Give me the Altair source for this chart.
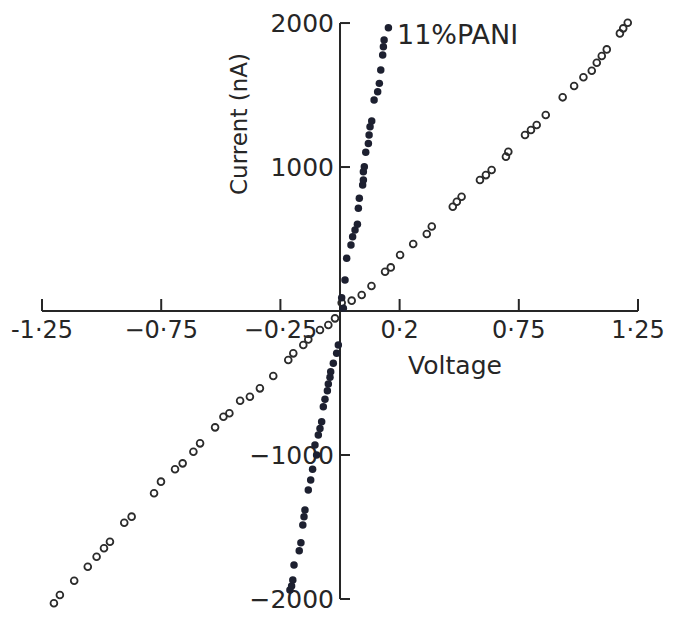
import altair as alt
import pandas as pd

# Open-circle series (steady ohmic line)
base_voltage = [-1.200, -1.175, -1.115, -1.058, -1.021, -0.990, -0.965, -0.905, -0.874,
                -0.780, -0.751, -0.692, -0.660, -0.615, -0.587, -0.524, -0.489, -0.464,
                -0.419, -0.378, -0.336, -0.280, -0.217, -0.196, -0.154, -0.133, -0.084,
                -0.049, -0.021, 0.007, 0.049, 0.091, 0.132, 0.189, 0.213, 0.252, 0.307,
                0.364, 0.385, 0.473, 0.490, 0.510, 0.587, 0.612, 0.636, 0.696, 0.706,
                0.776, 0.801, 0.825, 0.863, 0.934, 0.982, 1.021, 1.056, 1.077, 1.098,
                1.119, 1.174, 1.188, 1.207]
base_current = [-2030, -1972, -1873, -1776, -1706, -1648, -1602, -1470, -1428,
                -1266, -1185, -1099, -1058, -977, -919, -808, -734, -710,
                -623, -595, -537, -451, -340, -294, -236, -197, -132,
                -97, -51, 58, 72, 111, 174, 273, 303, 389, 465,
                535, 587, 724, 759, 794, 910, 944, 979, 1072, 1106,
                1222, 1257, 1292, 1361, 1484, 1563, 1623, 1669, 1724, 1771,
                1817, 1928, 1963, 2002]

# Filled-dot series: 11% PANI
pani_voltage = [-0.210, -0.203, -0.198, -0.193, -0.171, -0.164, -0.156, -0.151, -0.147,
                -0.133, -0.123, -0.115, -0.098, -0.105, -0.091, -0.084, -0.077, -0.070,
                -0.063, -0.053, -0.049, -0.042, -0.039, -0.028, -0.014, -0.007, 0.014,
                0.007, 0.021, 0.028, 0.046, 0.053, 0.063, 0.073, 0.077, 0.081, 0.095,
                0.098, 0.098, 0.102, 0.108, 0.119, 0.122, 0.126, 0.133, 0.143, 0.158,
                0.165, 0.171, 0.179, 0.182, 0.185, 0.203]
pani_current = [-1937, -1910, -1868, -1764, -1665, -1609, -1486, -1428, -1382,
                -1243, -1174, -1099, -1000, -931, -861, -815, -769, -665,
                -613, -553, -507, -460, -422, -363, -294, -236, 19,
                92, 215, 366, 458, 516, 563, 602, 713, 783, 875,
                910, 967, 1002, 1102, 1164, 1222, 1280, 1319, 1465, 1523,
                1581, 1674, 1778, 1835, 1882, 1967]

# Axis ticks and their printed labels
x_ticks = [-1.25, -0.75, -0.25, 0.25, 0.75, 1.25]
x_tick_labels = ["-1·25", "−0·75", "−0·25", "0·2", "0·75", "1·25"]
y_ticks = [-2000, -1000, 1000, 2000]
y_tick_labels = ["−2000", "−1000", "1000", "2000"]

W, H = 686, 634
INK = "#262626"
FONT = "DejaVu Sans"

xs = alt.Scale(domain=[-1.4262, 1.4513], zero=False, nice=False)
ys = alt.Scale(domain=[-2243, 2160], zero=False, nice=False)


def X(field):
    return alt.X(field, type="quantitative", scale=xs, axis=None)


def Y(field):
    return alt.Y(field, type="quantitative", scale=ys, axis=None)


axes_df = pd.DataFrame({"x": [-1.25, 0.0], "x2": [1.25, 0.0],
                        "y": [0.0, -2000.0], "y2": [0.0, 2000.0]})
axis_lines = alt.Chart(axes_df).mark_rule(color=INK, strokeWidth=2).encode(
    x=X("x"), x2="x2", y=Y("y"), y2="y2")

xt_df = pd.DataFrame({"v": x_ticks, "zero": [0.0] * len(x_ticks), "label": x_tick_labels})
yt_df = pd.DataFrame({"v": y_ticks, "zero": [0.0] * len(y_ticks), "label": y_tick_labels})

x_tick_marks = alt.Chart(xt_df).mark_tick(
    orient="vertical", size=12, thickness=2, yOffset=-6, color=INK, opacity=1
).encode(x=X("v"), y=Y("zero"))

y_tick_marks = alt.Chart(yt_df).mark_tick(
    orient="horizontal", size=10, thickness=2, xOffset=5, color=INK, opacity=1
).encode(x=X("zero"), y=Y("v"))

x_labels = alt.Chart(xt_df).mark_text(
    font=FONT, fontSize=24, color=INK, baseline="middle", align="center", dy=20
).encode(x=X("v"), y=Y("zero"), text="label")

y_labels = alt.Chart(yt_df).mark_text(
    font=FONT, fontSize=25, color=INK, baseline="middle", align="right", dx=-6, dy=1
).encode(x=X("zero"), y=Y("v"), text="label")

titles_df = pd.DataFrame({"t": ["Voltage"]})
x_title = alt.Chart(titles_df).mark_text(
    font=FONT, fontSize=25, color=INK, align="center", baseline="middle"
).encode(x=alt.value(455), y=alt.value(366), text="t")

y_title = alt.Chart(pd.DataFrame({"t": ["Current (nA)"]})).mark_text(
    font=FONT, fontSize=23, color=INK, align="center", baseline="middle", angle=270
).encode(x=alt.value(240), y=alt.value(124), text="t")

pani_label = alt.Chart(pd.DataFrame({"t": ["11%PANI"]})).mark_text(
    font=FONT, fontSize=27, color=INK, align="left", baseline="middle"
).encode(x=alt.value(397), y=alt.value(36), text="t")

base_df = pd.DataFrame({"v": base_voltage, "i": base_current})
pani_df = pd.DataFrame({"v": pani_voltage, "i": pani_current})

base_pts = alt.Chart(base_df).mark_point(
    shape="circle", filled=False, size=46, strokeWidth=1.8, color="#2b2b2b", opacity=1
).encode(x=X("v"), y=Y("i"))

pani_pts = alt.Chart(pani_df).mark_circle(
    size=56, color="#1d2030", opacity=1
).encode(x=X("v"), y=Y("i"))

chart = alt.layer(
    axis_lines, x_tick_marks, y_tick_marks, x_labels, y_labels,
    x_title, y_title, pani_label, base_pts, pani_pts
).properties(
    width=W, height=H, padding=0, autosize=alt.AutoSizeParams(type="none"),
    background="#ffffff"
).configure_view(stroke=None)

chart.save("out.html", embed_options={"renderer": "svg", "actions": False})
